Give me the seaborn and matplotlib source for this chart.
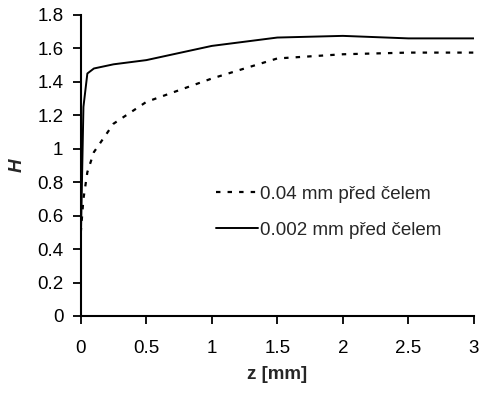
import matplotlib
matplotlib.use("Agg")
import matplotlib.pyplot as plt
import seaborn as sns
import pandas as pd

z_dotted = [0, 0.02, 0.05, 0.1, 0.25, 0.5, 1.0, 1.5, 2.0, 2.5, 3.0]
h_dotted = [0.5, 0.7, 0.86, 0.98, 1.15, 1.28, 1.42, 1.54, 1.565, 1.575, 1.575]
z_solid = [0, 0.02, 0.05, 0.1, 0.25, 0.5, 1.0, 1.5, 2.0, 2.5, 3.0]
h_solid = [0.45, 1.25, 1.45, 1.48, 1.505, 1.53, 1.615, 1.665, 1.675, 1.66, 1.66]
label_dotted = "0.04 mm před čelem"
label_solid = "0.002 mm před čelem"
xticks = [0, 0.5, 1, 1.5, 2, 2.5, 3]
yticks = [0, 0.2, 0.4, 0.6, 0.8, 1, 1.2, 1.4, 1.6, 1.8]

sns.set_theme(style="ticks")
plt.rcParams['font.family'] = ['Liberation Sans', 'DejaVu Sans']

FS = 13.5
fig = plt.figure(figsize=(4.81, 3.94), dpi=100)
ax = fig.add_axes([0.168, 0.198, 0.817, 0.764])

df_d = pd.DataFrame({"z": z_dotted, "H": h_dotted})
df_s = pd.DataFrame({"z": z_solid, "H": h_solid})
sns.lineplot(data=df_d, x="z", y="H", ax=ax, color="black", lw=1.6,
             linestyle=(0, (2, 3.2)), sort=False, label=label_dotted)
sns.lineplot(data=df_s, x="z", y="H", ax=ax, color="black", lw=1.4,
             sort=False, label=label_solid)

ax.set_xlim(0, 3)
ax.set_ylim(0, 1.8)
ax.set_xticks(xticks)
ax.set_xticklabels([f"{t:g}" for t in xticks])
ax.set_yticks(yticks)
ax.set_yticklabels([f"{t:g}" for t in yticks])
ax.tick_params(axis='both', labelsize=FS, color='black', labelcolor='black',
               length=5.5, width=1.3, direction='out')
ax.tick_params(axis='x', pad=12)
ax.tick_params(axis='y', pad=7)
for s in ['top', 'right']:
    ax.spines[s].set_visible(False)
for s in ['left', 'bottom']:
    ax.spines[s].set_linewidth(1.5)
    ax.spines[s].set_color('black')

ax.set_xlabel("z [mm]", fontsize=FS, fontweight='bold', labelpad=6)
ax.set_ylabel("H", fontsize=FS, fontweight='bold', fontstyle='italic', labelpad=8)

leg = ax.legend(loc='center left', bbox_to_anchor=(0.345, 0.345), frameon=False,
                fontsize=FS, handlelength=2.2, handletextpad=0.15,
                labelspacing=1.0, borderaxespad=0, borderpad=0)

fig.savefig("out.png", dpi=100)
